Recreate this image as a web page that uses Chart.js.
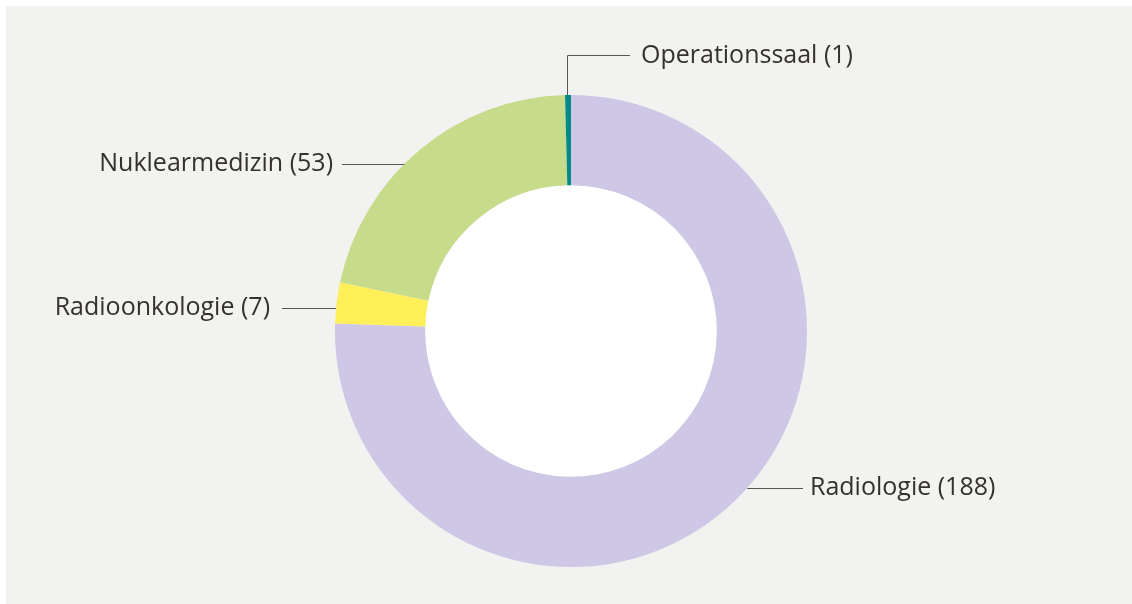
<!DOCTYPE html>
<html>
<head>
<meta charset="utf-8">
<script src="https://cdn.jsdelivr.net/npm/chart.js@4"></script>
<style>
  html, body { margin: 0; padding: 0; background: #ffffff; }
  #wrap { position: relative; width: 1132px; height: 604px; }
</style>
</head>
<body>
<div id="wrap"><canvas id="donut" width="1132" height="604"></canvas></div>
<script>
// data
const categories = ['Radiologie', 'Radioonkologie', 'Nuklearmedizin', 'Operationssaal'];
const counts = [188, 7, 53, 1];
const colors = ['#cec7e5', '#fff05a', '#c6dc8b', '#008a8a'];

// label placement (text anchor + side), leader line runs to the ring
const labelSpots = [
    { x: 810, y: 488, align: 'left', gap: 7, kind: 'h' },
    { x: 270, y: 308, align: 'right', gap: 12, kind: 'h' },
    { x: 333, y: 164, align: 'right', gap: 9, kind: 'h' },
    { x: 641, y: 56, align: 'left', gap: 11, kind: 'v' }
];

const panelBg = {
    id: 'panelBg',
    beforeDraw(chart) {
        const c = chart.ctx;
        c.save();
        c.fillStyle = '#ffffff';
        c.fillRect(0, 0, chart.width, chart.height);
        c.fillStyle = '#f2f2f0';
        c.fillRect(6, 6, chart.width - 6, chart.height - 6);
        c.restore();
    },
    beforeDatasetsDraw(chart) {
        const arc = chart.getDatasetMeta(0).data[0];
        const c = chart.ctx;
        c.save();
        c.fillStyle = '#ffffff';
        c.beginPath();
        c.arc(arc.x, arc.y, arc.innerRadius, 0, Math.PI * 2);
        c.fill();
        c.restore();
    }
};

const leaderLabels = {
    id: 'leaderLabels',
    afterDatasetsDraw(chart) {
        const c = chart.ctx;
        const meta = chart.getDatasetMeta(0);
        c.save();
        c.font = '25px "Open Sans", sans-serif';
        c.textBaseline = 'middle';
        meta.data.forEach((arc, i) => {
            const s = labelSpots[i];
            const text = categories[i] + ' (' + counts[i] + ')';
            const R = arc.outerRadius;
            c.strokeStyle = '#5a5652';
            c.lineWidth = 1;
            c.beginPath();
            if (s.kind === 'h') {
                const dy = s.y - arc.y;
                const dx = Math.sqrt(Math.max(R * R - dy * dy, 0));
                const ex = s.align === 'left' ? arc.x + dx : arc.x - dx;
                const tx = s.align === 'left' ? s.x - s.gap : s.x + s.gap;
                c.moveTo(ex, s.y + 0.5);
                c.lineTo(tx, s.y + 0.5);
            } else {
                const mid = (arc.startAngle + arc.endAngle) / 2;
                const px = Math.round(arc.x + R * Math.cos(mid)) - 0.5;
                const py = arc.y + R * Math.sin(mid);
                c.moveTo(px, py);
                c.lineTo(px, s.y - 0.5);
                c.lineTo(s.x - s.gap, s.y - 0.5);
            }
            c.stroke();
            c.fillStyle = '#35312d';
            c.textAlign = s.align;
            c.fillText(text, s.x, s.y);
        });
        c.restore();
    }
};

new Chart(document.getElementById('donut'), {
    type: 'doughnut',
    data: {
        labels: categories,
        datasets: [{
            data: counts,
            backgroundColor: colors,
            borderWidth: 0
        }]
    },
    options: {
        responsive: false,
        animation: false,
        cutout: '61.8%',
        layout: { padding: { top: 95, bottom: 37, left: 335, right: 325 } },
        plugins: {
            legend: { display: false },
            tooltip: { enabled: false }
        }
    },
    plugins: [panelBg, leaderLabels]
});
</script>
</body>
</html>
